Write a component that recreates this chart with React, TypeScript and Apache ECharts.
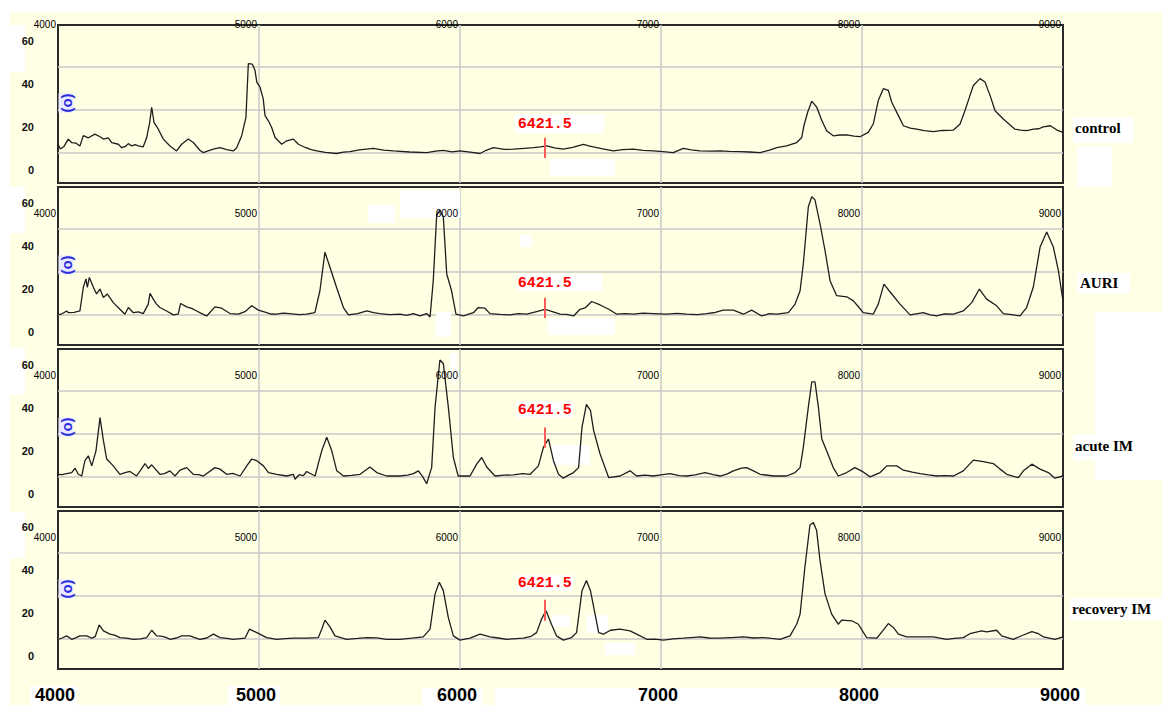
import React, { useEffect, useRef } from 'react';
import * as echarts from 'echarts';

// ---------- data ----------
const panelNames = ['control', 'AURI', 'acute IM', 'recovery IM'];
const xMin = 4000;
const xMax = 9000;
const xStep = 1000;
const yMin = -6;
const yMax = 67.4;
const gridBase = 8; // value of the lowest horizontal grid line
const markerMz = 6421.5;
const markerLabel = '6421.5';
const markerLow = [5.6, 6.6, 21.5, 16.4];
const markerHigh = [15, 15.9, 30.9, 26.2];

const controlData = [
  [4000, 12], [4012, 9.8], [4030, 11], [4051, 14.4], [4068, 12.8], [4090, 12.5], [4109, 11.2], [4126, 16],
  [4151, 15], [4184, 16.7], [4209, 15.5], [4226, 14.4], [4250, 15], [4267, 12.8], [4300, 12], [4317, 10.4],
  [4335, 11], [4350, 12.3], [4367, 11.2], [4385, 11.8], [4400, 11.2], [4424, 10.8], [4441, 15], [4456, 22],
  [4466, 29.2], [4478, 22], [4499, 19], [4524, 14.4], [4557, 11.2], [4590, 8.9], [4615, 12], [4648, 14.4],
  [4673, 12.8], [4706, 9.2], [4723, 8.1], [4750, 9], [4773, 9.7], [4806, 10.4], [4840, 9.5], [4872, 8.9],
  [4889, 10.4], [4914, 16], [4935, 24.5], [4947, 49.5], [4967, 49.2], [4980, 46.4], [4989, 40.9], [5005, 38.5],
  [5021, 33.1], [5030, 25.3], [5046, 23], [5063, 19.8], [5080, 15.1], [5113, 12], [5138, 13.6], [5171, 14.4],
  [5196, 12], [5230, 10.5], [5260, 9.5], [5287, 8.9], [5330, 8.2], [5386, 7.7], [5420, 8.3], [5453, 8.6],
  [5500, 9.4], [5569, 10.1], [5620, 9.3], [5668, 8.9], [5750, 8.4], [5834, 8.1], [5880, 8.8], [5917, 9.2],
  [5960, 8.5], [6000, 8.9], [6050, 8.3], [6100, 7.7], [6130, 9.2], [6166, 10.4], [6220, 9.6], [6266, 9.7],
  [6320, 10.1], [6366, 10.4], [6400, 10.8], [6431, 11.2], [6470, 10.3], [6514, 9.7], [6560, 10.6], [6614, 12],
  [6640, 11.3], [6663, 10.8], [6710, 9.9], [6763, 8.9], [6810, 9.5], [6863, 9.7], [6910, 9.2], [6962, 8.9],
  [7010, 8.6], [7061, 8.1], [7111, 10.1], [7150, 9.4], [7194, 8.9], [7250, 8.8], [7294, 8.9], [7340, 8.7],
  [7393, 8.6], [7440, 8.4], [7493, 8.1], [7540, 9.3], [7576, 10.4], [7625, 11.2], [7675, 12.8], [7700, 15.1],
  [7711, 20.6], [7730, 27], [7750, 32], [7775, 29.2], [7800, 23], [7824, 18.3], [7857, 15.9], [7890, 16.3],
  [7924, 16.4], [7960, 15.8], [7990, 15.5], [8031, 17.5], [8056, 21.4], [8081, 32.3], [8106, 37.8], [8131, 37],
  [8148, 31.5], [8181, 25.3], [8206, 20.6], [8240, 19.5], [8272, 19], [8310, 18.3], [8355, 17.9], [8400, 18.4],
  [8455, 18.6], [8488, 21.4], [8512, 27.6], [8535, 34], [8554, 39.3], [8587, 42.5], [8612, 40.9], [8637, 34.7],
  [8662, 27.6], [8703, 23.7], [8730, 21.5], [8761, 19], [8790, 18.6], [8819, 18.3], [8853, 19], [8880, 19.2],
  [8902, 20.1], [8937, 20.6], [8970, 18.6], [9000, 17.5],
];

const auriData = [
  [4000, 8], [4020, 8.5], [4043, 9.8], [4052, 9], [4080, 9.2], [4109, 9.8], [4126, 20.8], [4139, 24.7],
  [4146, 20.8], [4156, 25.4], [4176, 20.8], [4192, 17.7], [4209, 20], [4226, 16.1], [4245, 17.7], [4275, 13.7],
  [4308, 10.6], [4333, 8.3], [4350, 11.4], [4375, 9], [4400, 9.4], [4424, 8.6], [4449, 13], [4458, 18],
  [4474, 15.3], [4490, 13], [4507, 11.4], [4540, 9.8], [4574, 8], [4598, 8.3], [4610, 13.3], [4640, 11.7],
  [4665, 11], [4690, 9.8], [4715, 8.6], [4740, 7.5], [4781, 11.7], [4814, 11.1], [4856, 8.6], [4897, 8.3],
  [4930, 9.5], [4964, 12.2], [4997, 10.2], [5038, 9], [5060, 8.4], [5088, 8.3], [5120, 8.8], [5154, 8.6],
  [5200, 8.1], [5237, 8.3], [5278, 9], [5303, 19.2], [5328, 37.1], [5353, 30.1], [5386, 20.7], [5420, 11.4],
  [5445, 8], [5490, 8.6], [5536, 9.8], [5570, 9], [5602, 8.6], [5650, 8.1], [5701, 8.3], [5735, 7.8],
  [5768, 8.6], [5801, 7.5], [5834, 8.6], [5851, 7], [5867, 23.9], [5884, 54.3], [5900, 56.7], [5917, 53.5],
  [5934, 27], [5958, 19.2], [5980, 8.3], [6017, 7.5], [6067, 9], [6091, 11.4], [6124, 11.1], [6149, 8.6],
  [6200, 8.2], [6249, 8], [6290, 8.6], [6332, 8.3], [6381, 9.5], [6423, 10.6], [6448, 9.8], [6498, 8.3],
  [6530, 8.2], [6565, 7.5], [6597, 10.6], [6625, 11.4], [6655, 14.2], [6697, 12.6], [6740, 10.6], [6780, 8.3],
  [6820, 8.6], [6863, 8.3], [6910, 8.8], [6962, 8.6], [7029, 8.3], [7080, 8.7], [7128, 8.3], [7180, 8.1],
  [7227, 8.6], [7270, 9.1], [7310, 10.2], [7360, 10.2], [7410, 8.3], [7451, 10.2], [7501, 7.5], [7540, 8.6],
  [7576, 8.3], [7634, 9], [7667, 13], [7692, 19.2], [7708, 31.7], [7733, 58.2], [7750, 62.9], [7766, 61.4],
  [7791, 50.4], [7816, 37.9], [7841, 23.9], [7874, 16.9], [7924, 16.4], [7957, 14.5], [7980, 12], [8006, 9],
  [8056, 8.3], [8081, 13], [8109, 22.3], [8148, 17.7], [8189, 13], [8239, 8], [8270, 8.5], [8305, 9],
  [8340, 8], [8372, 7.5], [8410, 8.5], [8455, 8.3], [8504, 9.8], [8546, 13.7], [8584, 20], [8620, 15.3],
  [8670, 12.2], [8703, 8.6], [8753, 8], [8786, 7.5], [8819, 11.4], [8852, 20.8], [8886, 39.5], [8919, 46.5],
  [8952, 39.5], [8977, 28.6], [9000, 14.5],
];

const acuteData = [
  [4000, 9.2], [4020, 9], [4043, 9.5], [4068, 10], [4085, 12], [4101, 9.2], [4118, 8.4], [4134, 15.5],
  [4151, 17.8], [4168, 13.1], [4189, 20.1], [4209, 35.5], [4226, 24.8], [4242, 16.3], [4275, 13.1], [4308, 9.2],
  [4330, 9.8], [4358, 10.5], [4391, 8.4], [4433, 14.2], [4449, 11.9], [4466, 13.6], [4507, 9.2], [4530, 9.5],
  [4557, 10.8], [4582, 8.4], [4607, 11.1], [4640, 12.3], [4673, 9.2], [4700, 9], [4723, 8.4], [4781, 12.3],
  [4806, 11.6], [4839, 9.2], [4870, 9.6], [4906, 8.4], [4939, 13.1], [4964, 16.3], [4989, 15.5], [5022, 13.1],
  [5047, 10], [5088, 9.2], [5138, 8.4], [5171, 9.2], [5179, 6.9], [5200, 9], [5221, 8.6], [5237, 10.5],
  [5279, 8.4], [5312, 20.1], [5337, 26.4], [5362, 20.1], [5387, 10.8], [5420, 8.4], [5460, 8.7], [5503, 9.2],
  [5552, 12.6], [5586, 10], [5635, 8.4], [5701, 8.4], [5740, 8.8], [5768, 9.5], [5793, 10.8], [5815, 8],
  [5834, 4.8], [5859, 12.3], [5876, 40.4], [5900, 62.3], [5917, 60.7], [5942, 40.4], [5967, 17], [5991, 8.4],
  [6050, 8.4], [6083, 13.9], [6108, 17], [6133, 12.6], [6174, 8.4], [6220, 8.8], [6266, 8.9], [6310, 9.5],
  [6349, 9.2], [6390, 13.1], [6415, 21.7], [6440, 25.6], [6465, 15.5], [6490, 9.2], [6514, 7.4], [6540, 8.8],
  [6565, 10], [6590, 12.3], [6607, 31.1], [6629, 41.7], [6649, 38.9], [6665, 29.5], [6697, 18.6], [6740, 7.6],
  [6796, 8.4], [6846, 10.8], [6879, 8.4], [6920, 8.8], [6962, 8.4], [7000, 8.9], [7045, 9.5], [7090, 8.6],
  [7128, 8.4], [7170, 8.9], [7219, 10], [7260, 9], [7294, 8.4], [7330, 9.4], [7360, 10.8], [7400, 12.1],
  [7426, 12.3], [7460, 10.8], [7493, 9.2], [7559, 8.4], [7625, 8.4], [7667, 10], [7692, 12.3], [7708, 21.7],
  [7733, 40.4], [7750, 52.1], [7766, 52.1], [7783, 40.4], [7800, 25.6], [7824, 20.1], [7857, 12.3], [7882, 8.4],
  [7924, 10], [7965, 12.3], [8006, 10.3], [8040, 8], [8090, 10], [8123, 13.1], [8173, 13.1], [8206, 11.1],
  [8250, 10.2], [8289, 9.5], [8330, 8.9], [8372, 8.4], [8410, 8.6], [8455, 8.4], [8504, 10.8], [8554, 15.8],
  [8604, 15.1], [8653, 14.2], [8687, 11.6], [8720, 9.2], [8778, 7.6], [8803, 10.8], [8845, 13.9], [8886, 11.6],
  [8927, 10], [8960, 7.4], [9000, 8.4],
];

const recoveryData = [
  [4000, 7.8], [4020, 8.4], [4043, 9.4], [4068, 7.8], [4090, 8.6], [4109, 9.4], [4143, 9.4], [4168, 8.3],
  [4185, 9], [4205, 14.5], [4226, 11.7], [4259, 10.2], [4285, 9.6], [4308, 8.6], [4340, 8.3], [4375, 7.8],
  [4410, 8], [4441, 8.6], [4466, 12], [4491, 9.4], [4520, 9.2], [4540, 8.6], [4557, 7.8], [4590, 8.4],
  [4615, 9.4], [4657, 9.4], [4680, 8.6], [4706, 7.8], [4740, 8.4], [4773, 10.2], [4806, 8.6], [4840, 8.2],
  [4872, 7.8], [4930, 8.3], [4952, 12.5], [4989, 10.9], [5038, 8.6], [5088, 7.8], [5130, 8.1], [5171, 8.3],
  [5237, 8.3], [5295, 8.6], [5312, 12.5], [5328, 16.7], [5353, 13.6], [5378, 9.4], [5436, 7.8], [5490, 8.2],
  [5536, 8.6], [5586, 8.5], [5635, 7.8], [5701, 7.8], [5760, 8.3], [5817, 8.9], [5851, 12.5], [5876, 28.9],
  [5897, 34.3], [5917, 30.4], [5942, 17.9], [5967, 9.4], [6000, 7.4], [6050, 8.3], [6100, 10.2], [6149, 8.9],
  [6190, 8.4], [6232, 7.8], [6280, 8.1], [6315, 8.3], [6350, 9], [6381, 10.9], [6406, 17.2], [6428, 21.1],
  [6455, 14.8], [6480, 9.4], [6514, 7.4], [6555, 8.6], [6580, 10.9], [6607, 30.4], [6629, 35.1], [6649, 30.4],
  [6672, 19.5], [6690, 10.9], [6714, 10.2], [6749, 12], [6796, 12.5], [6846, 11.7], [6879, 10.2], [6929, 7.8],
  [6970, 7.9], [7012, 7.4], [7060, 8], [7111, 8.3], [7150, 8.6], [7194, 8.9], [7240, 8.4], [7294, 8.3],
  [7350, 8.6], [7410, 8.9], [7460, 8.4], [7510, 8.6], [7550, 8.2], [7592, 7.8], [7642, 9.4], [7675, 14.8],
  [7692, 19.5], [7716, 41.4], [7741, 60.9], [7758, 62], [7774, 58.5], [7791, 44.5], [7816, 28.9], [7849, 19.5],
  [7882, 14.8], [7899, 16.7], [7949, 16.4], [7982, 14.8], [8023, 8.6], [8073, 8.3], [8103, 11.7], [8131, 15.1],
  [8156, 13.3], [8181, 10.2], [8222, 8.9], [8289, 8.9], [8355, 8.9], [8421, 7.8], [8460, 8.2], [8504, 8.6],
  [8537, 10.4], [8595, 11.7], [8620, 11.2], [8670, 12], [8695, 9.4], [8753, 7.8], [8803, 9.8], [8845, 11.4],
  [8878, 10.4], [8903, 8.9], [8960, 7.8], [9000, 8.9],
];

const seriesList = [controlData, auriData, acuteData, recoveryData];

// ---------- layout ----------
const gridTops = [25, 187, 349, 511];
const gridHeight = 158;
const gridLeft = 58;
const gridRight = 99;
const nameX = [1075, 1080, 1075, 1072];
const nameY = [128, 283, 446, 609];
const markerDist = [6, 7, 10, 9];

const BG = '#ffffe6';
const PLOT_BG = '#ffffe3';
const GRID_LINE = '#c8c8c8';

// white patches (decorative)
const outsidePatches = [
  [0, 0, 1162, 12], [0, 0, 10, 705],
  [10, 25, 15, 47], [10, 187, 15, 46], [10, 348, 15, 47], [10, 512, 15, 46],
  [1095, 312, 67, 168],
  [1073, 117, 60, 26], [1077, 147, 35, 40], [1077, 273, 53, 20], [1073, 435, 70, 25], [1070, 598, 92, 22],
  [30, 686, 47, 19], [228, 686, 52, 19], [422, 688, 61, 17], [495, 688, 590, 17],
];
const insidePatches = [
  [515, 114, 89, 19], [550, 159, 65, 17],
  [400, 190, 60, 28], [368, 205, 27, 18], [436, 312, 15, 25], [520, 235, 12, 12], [548, 318, 67, 17], [518, 274, 84, 17],
  [552, 445, 38, 20], [450, 353, 7, 29],
  [552, 615, 18, 12], [587, 615, 21, 18], [605, 643, 30, 12],
];

const plain = (v: number) => String(v);

export default function App() {
  const ref = useRef<HTMLDivElement>(null);

  useEffect(() => {
    if (!ref.current) return;
    const chart = echarts.init(ref.current, undefined, { renderer: 'svg' });

    const grids = gridTops.map((t) => ({
      left: gridLeft,
      right: gridRight,
      top: t,
      height: gridHeight,
      show: true,
      backgroundColor: PLOT_BG,
      borderColor: '#2a2a2a',
      borderWidth: 2,
    }));

    const bottomX = gridTops.map((_, i) => ({
      gridIndex: i,
      type: 'value',
      min: xMin,
      max: xMax,
      interval: xStep,
      position: 'bottom',
      axisLine: { show: false },
      axisTick: { show: false },
      splitLine: { show: true, showMinLine: false, showMaxLine: false, lineStyle: { color: GRID_LINE, width: 1.5 } },
      axisLabel:
        i === 3
          ? {
              show: true,
              margin: 17,
              fontSize: 18,
              fontWeight: 'bold',
              fontFamily: 'Liberation Sans',
              color: '#000',
              formatter: plain,
              padding: [0, 6, 0, 0],
            }
          : { show: false },
    }));

    const topX = gridTops.map((_, i) => ({
      gridIndex: i,
      type: 'value',
      min: xMin,
      max: xMax,
      interval: xStep,
      position: 'top',
      z: 4,
      axisLine: { show: false },
      axisTick: { show: false },
      splitLine: { show: false },
      axisLabel: {
        show: true,
        inside: i > 0,
        margin: i === 0 ? 1 : 26,
        align: 'right',
        verticalAlign: 'middle',
        fontSize: 10,
        fontFamily: 'Liberation Sans',
        color: '#000',
        showMinLabel: true,
        showMaxLabel: true,
        formatter: plain,
        padding: [0, 2, 0, 0],
      },
    }));

    const labelY = gridTops.map((_, i) => ({
      gridIndex: i,
      type: 'value',
      min: yMin,
      max: yMax,
      splitNumber: 4,
      position: 'left',
      axisLine: { show: false },
      axisTick: { show: false },
      splitLine: { show: false },
      axisLabel: {
        show: true,
        margin: 24,
        fontSize: 11,
        fontWeight: 'bold',
        fontFamily: 'Liberation Sans',
        color: '#111',
        showMinLabel: false,
        showMaxLabel: false,
        formatter: (v: number) => (Math.abs(v % 20) < 1e-6 ? String(v) : ''),
      },
    }));

    const lineY = gridTops.map((_, i) => ({
      gridIndex: i,
      type: 'value',
      min: yMin - gridBase,
      max: yMax - gridBase,
      splitNumber: 4,
      position: 'right',
      axisLine: { show: false },
      axisTick: { show: false },
      axisLabel: { show: false },
      splitLine: { show: true, showMinLine: false, showMaxLine: false, lineStyle: { color: GRID_LINE, width: 1.5 } },
    }));

    const series = seriesList.map((d, i) => ({
      type: 'line',
      name: panelNames[i],
      xAxisIndex: i,
      yAxisIndex: i,
      data: d,
      showSymbol: false,
      symbol: 'none',
      silent: true,
      z: 3,
      lineStyle: { color: '#1e1e1e', width: 1.3 },
      markLine: {
        silent: true,
        symbol: ['none', 'none'],
        animation: false,
        lineStyle: { color: '#ff5a5a', width: 2, type: 'solid' },
        emphasis: { disabled: true },
        label: {
          show: true,
          position: 'end',
          formatter: markerLabel,
          distance: markerDist[i],
          color: '#ff0000',
          fontFamily: 'Liberation Mono',
          fontWeight: 'bold',
          fontSize: 15,
          backgroundColor: '#ffffff',
          padding: [1, 1, 0, 1],
        },
        data: [[{ coord: [markerMz, markerLow[i]] }, { coord: [markerMz, markerHigh[i]] }]],
      },
    }));

    const graphic: any[] = [];
    outsidePatches.forEach(([x, y, w, h]) =>
      graphic.push({ type: 'rect', z: -1, silent: true, shape: { x, y, width: w, height: h }, style: { fill: '#ffffff' } })
    );
    insidePatches.forEach(([x, y, w, h]) =>
      graphic.push({ type: 'rect', z: 1, silent: true, shape: { x, y, width: w, height: h }, style: { fill: '#ffffff' } })
    );
    gridTops.forEach((t, i) => {
      graphic.push({
        type: 'text',
        z: 5,
        x: 66,
        y: t + 78,
        rotation: Math.PI / 2,
        silent: true,
        style: {
          text: '(o)',
          fill: '#2b2bdc',
          fontSize: 15,
          fontWeight: 'bold',
          fontFamily: 'Liberation Sans',
          align: 'center',
          verticalAlign: 'middle',
          backgroundColor: '#eaeaff',
        },
      });
      graphic.push({
        type: 'text',
        z: 5,
        x: nameX[i],
        y: nameY[i],
        silent: true,
        style: {
          text: panelNames[i],
          fill: '#000',
          fontSize: 15,
          fontWeight: 'bold',
          fontFamily: 'Liberation Serif',
          align: 'left',
          verticalAlign: 'middle',
        },
      });
    });

    chart.setOption({
      animation: false,
      backgroundColor: BG,
      grid: grids,
      xAxis: [...bottomX, ...topX],
      yAxis: [...labelY, ...lineY],
      series,
      graphic,
    } as any);

    return () => chart.dispose();
  }, []);

  return (
    <div
      ref={ref}
      style={{ position: 'fixed', left: 0, top: 0, width: 1162, height: 705 }}
    />
  );
}
